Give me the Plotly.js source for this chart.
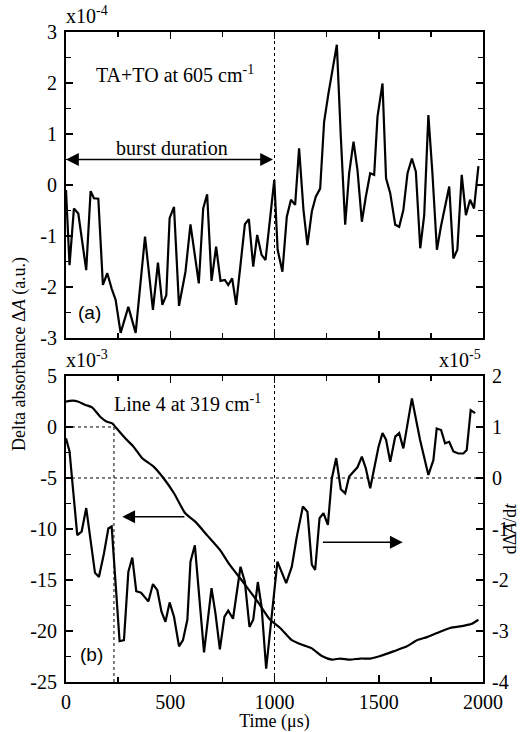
<!DOCTYPE html>
<html><head><meta charset="utf-8">
<script src="https://cdn.plot.ly/plotly-3.0.1.min.js"></script>
<style>html,body{margin:0;padding:0;background:#fff}#plot{width:520px;height:732px}</style>
</head><body><div id="plot"></div>
<script>
// Panel (a): TA+TO at 605 cm-1, delta absorbance (x1e-4)
const timeA = [0,17,38,59,97,118,134,155,177,198,219,238,262,299,334,379,417,441,462,481,497,518,542,573,597,637,658,677,698,720,741,762,778,797,816,858,877,898,917,938,957,999,1015,1038,1059,1079,1099,1118,1139,1158,1179,1198,1219,1238,1259,1278,1299,1318,1339,1358,1379,1398,1419,1438,1459,1478,1494,1518,1535,1555,1579,1598,1618,1638,1659,1678,1699,1718,1738,1757,1779,1798,1818,1838,1858,1877,1898,1918,1938,1957,1978];
const absA = [-0.1,-1.57,-0.46,-0.56,-1.67,-0.12,-0.26,-0.27,-1.96,-1.73,-2.03,-2.25,-2.9,-2.39,-2.9,-1.01,-2.45,-1.52,-2.35,-2.16,-0.65,-0.43,-2.37,-1.70,-0.77,-1.93,-0.46,-0.18,-1.88,-1.21,-1.88,-1.86,-1.96,-1.83,-2.35,-0.77,-0.67,-1.60,-0.98,-1.37,-1.47,0.10,-1.27,-1.70,-0.62,-0.29,-0.39,0.72,-0.49,-1.18,-0.52,-0.23,-0.07,1.24,1.80,2.29,2.75,0.95,-0.78,0.23,0.85,0.29,-0.72,-0.23,0.23,0.20,1.34,1.99,0.13,-0.16,-0.78,-0.82,-0.49,0.23,0.52,0.26,-1.24,-0.59,1.37,0.26,-1.27,-0.82,-0.39,-0.03,-1.44,-1.27,0.20,-0.59,-0.29,-0.46,0.37];

// Panel (b): Line 4 at 319 cm-1, delta absorbance (x1e-3), left axis
const timeB = [0,29,60,93,125,164,196,222,236,284,324,366,420,468,518,572,620,676,740,781,853,925,979,1027,1083,1139,1179,1227,1275,1315,1363,1411,1459,1507,1570,1635,1683,1731,1779,1842,1906,1946,1978];
const absB = [2.48,2.58,2.48,2.16,1.93,1.01,0.52,0.36,0.03,-1.11,-1.93,-3.07,-3.89,-5.03,-6.5,-8.46,-9.28,-10.6,-12.1,-13.4,-15.3,-17.3,-18.9,-19.7,-20.9,-21.4,-21.7,-22.45,-22.8,-22.7,-22.8,-22.7,-22.7,-22.45,-22.0,-21.5,-20.9,-20.6,-20.2,-19.7,-19.5,-19.3,-18.9];

// Panel (b): derivative dA/dt (x1e-5), right axis
const timeC = [0,17,54,75,97,139,158,182,203,219,257,278,299,318,337,360,395,417,438,458,477,497,518,542,561,582,597,618,641,662,698,717,738,760,778,801,837,858,880,898,920,938,960,979,1014,1056,1083,1107,1136,1158,1179,1195,1216,1235,1256,1275,1296,1318,1339,1358,1379,1398,1419,1438,1459,1478,1499,1518,1535,1555,1579,1598,1618,1659,1698,1738,1762,1778,1799,1818,1838,1858,1882,1906,1922,1941,1962];
const derivC = [0.78,0.52,-1.12,-1.05,-0.59,-1.86,-1.94,-1.48,-0.99,-0.95,-3.2,-3.18,-1.84,-1.56,-2.22,-2.25,-2.42,-2.08,-2.2,-2.62,-2.82,-2.44,-2.72,-3.3,-3.18,-2.78,-1.64,-1.32,-2.42,-3.42,-2.16,-2.66,-3.36,-2.72,-2.6,-2.76,-1.74,-2.04,-2.92,-2.78,-2.04,-2.52,-3.74,-2.98,-1.64,-2.06,-1.74,-1.15,-0.56,-0.66,-1.7,-1.8,-0.79,-0.69,-0.92,-0.01,0.39,-0.22,-0.3,0.03,0.12,0.21,0.42,0.19,-0.2,0.16,0.61,0.88,0.75,0.32,0.81,0.88,0.58,1.56,0.75,0.06,0.35,0.97,0.94,0.68,0.71,0.52,0.48,0.48,0.55,1.33,1.27];

// tick labels
const xTicks = [0,500,1000,1500,2000];
const xTickText = ["0","500","1000","1500","2000"];
const yTicksA = [-3,-2,-1,0,1,2,3];
const yTickTextA = ["-3","-2","-1","0","1","2","3"];
const yTicksB = [-25,-20,-15,-10,-5,0,5];
const yTickTextB = ["-25","-20","-15","-10","-5","0","5"];
const yTicksC = [-4,-3,-2,-1,0,1,2];
const yTickTextC = ["-4","-3","-2","-1","0","1","2"];

const serif = "Liberation Serif, Times New Roman, serif";
const sans = "Liberation Sans, Arial, sans-serif";
const tickFont = {family: serif, size: 20, color: "#000"};

const line = {color: "#000", width: 2.2};
const traces = [
  {x: timeA, y: absA, xaxis: "x", yaxis: "y", mode: "lines", line: line, hoverinfo: "skip"},
  {x: timeB, y: absB, xaxis: "x2", yaxis: "y2", mode: "lines", line: {color: "#000", width: 2.2, shape: "spline", smoothing: 0.6}, hoverinfo: "skip"},
  {x: timeC, y: derivC, xaxis: "x2", yaxis: "y3", mode: "lines", line: line, hoverinfo: "skip"}
];

function xAxis(anchor, labels) {
  return {anchor: anchor, domain: [0, 1], range: [0, 2000], tickmode: "array", tickvals: xTicks, ticktext: xTickText,
    showticklabels: labels, ticks: "inside", ticklen: 7, tickwidth: 1.5, tickcolor: "#000",
    minor: {tickmode: "linear", tick0: 0, dtick: 250, ticks: "inside", ticklen: 5, tickwidth: 1.5, tickcolor: "#000"},
    showline: true, linewidth: 2, linecolor: "#000", mirror: "ticks", showgrid: false, zeroline: false,
    tickfont: tickFont, ticklabelstandoff: 1};
}
function yAxis(dom, rng, tv, tt, dt, side, mirror) {
  const a = {domain: dom, range: rng, tickmode: "array", tickvals: tv, ticktext: tt,
    ticks: "inside", ticklen: 7, tickwidth: 1.5, tickcolor: "#000",
    minor: {tickmode: "linear", tick0: 0, dtick: dt, ticks: "inside", ticklen: 5, tickwidth: 1.5, tickcolor: "#000"},
    showline: true, linewidth: 2, linecolor: "#000", mirror: mirror, showgrid: false, zeroline: false,
    tickfont: tickFont, ticklabelstandoff: 3, side: side};
  return a;
}

const dot = {color: "#000", width: 1, dash: "dot"};
const layout = {
  width: 520, height: 732, paper_bgcolor: "#fff", plot_bgcolor: "#fff", showlegend: false,
  margin: {l: 66, r: 37, t: 32, b: 50},
  font: {family: serif, color: "#000"},
  xaxis: xAxis("y", false),
  yaxis: yAxis([0.5292, 1], [-3, 3], yTicksA, yTickTextA, 0.5, "left", "ticks"),
  xaxis2: Object.assign(xAxis("y2", true), {title: {text: "Time (\u03bcs)", font: {family: serif, size: 18}, standoff: 0}}),
  yaxis2: Object.assign(yAxis([0, 0.4708], [-25, 5], yTicksB, yTickTextB, 2.5, "left", false), {anchor: "x2"}),
  yaxis3: Object.assign(yAxis([0, 0.4708], [-4, 2], yTicksC, yTickTextC, 0.5, "right", false), {anchor: "x2", overlaying: "y2",
    title: {text: "d\u0394<i>A</i>/d<i>t</i>", font: {family: serif, size: 18}, standoff: 2}}),
  shapes: [
    {type: "line", xref: "x", yref: "y", x0: 1000, x1: 1000, y0: -3, y1: 3, line: dot},
    {type: "line", xref: "x2", yref: "y2", x0: 1000, x1: 1000, y0: -25, y1: 5, line: dot},
    {type: "line", xref: "x2", yref: "y2", x0: 230, x1: 230, y0: -25, y1: 0, line: dot},
    {type: "line", xref: "x2", yref: "y2", x0: 0, x1: 230, y0: 0, y1: 0, line: dot},
    {type: "line", xref: "x2", yref: "y2", x0: 0, x1: 2000, y0: -5, y1: -5, line: dot}
  ],
  annotations: [
    {xref: "paper", yref: "paper", x: -0.005, y: 1.0, yshift: 3, xanchor: "left", yanchor: "bottom", showarrow: false,
      text: "x10<sup>-4</sup>", font: {family: serif, size: 20}},
    {xref: "paper", yref: "paper", x: -0.005, y: 0.4708, yshift: 3, xanchor: "left", yanchor: "bottom", showarrow: false,
      text: "x10<sup>-3</sup>", font: {family: serif, size: 20}},
    {xref: "paper", yref: "paper", x: 1.0, y: 0.4708, yshift: 3, xanchor: "right", yanchor: "bottom", showarrow: false,
      text: "x10<sup>-5</sup>", font: {family: serif, size: 20}},
    {xref: "x", yref: "y", x: 135, y: 2.18, xanchor: "left", showarrow: false,
      text: "TA+TO at 605 cm<sup>-1</sup>", font: {family: serif, size: 20}},
    {xref: "x", yref: "y", x: 510, y: 0.72, xanchor: "center", showarrow: false,
      text: "burst duration", font: {family: serif, size: 20}},
    {xref: "x", yref: "y", axref: "x", ayref: "y", x: 0, y: 0.5, ax: 1000, ay: 0.5, showarrow: true,
      arrowhead: 2, arrowside: "end+start", arrowsize: 1.6, arrowwidth: 1.6, arrowcolor: "#000", text: ""},
    {xref: "x", yref: "y", x: 115, y: -2.5, showarrow: false, text: "(a)", font: {family: sans, size: 19}},
    {xref: "x2", yref: "y2", x: 222, y: 2.35, xanchor: "left", showarrow: false,
      text: "Line 4 at 319 cm<sup>-1</sup>", font: {family: serif, size: 20}},
    {xref: "x2", yref: "y2", axref: "x2", ayref: "y2", x: 270, y: -8.8, ax: 575, ay: -8.8, showarrow: true,
      arrowhead: 2, arrowsize: 1.6, arrowwidth: 1.6, arrowcolor: "#000", text: ""},
    {xref: "x2", yref: "y3", axref: "x2", ayref: "y3", x: 1615, y: -1.26, ax: 1225, ay: -1.26, showarrow: true,
      arrowhead: 2, arrowsize: 1.6, arrowwidth: 1.6, arrowcolor: "#000", text: ""},
    {xref: "x2", yref: "y2", x: 120, y: -22.3, showarrow: false, text: "(b)", font: {family: sans, size: 19}},
    {xref: "paper", yref: "paper", x: -0.11, y: 0.505, xanchor: "center", yanchor: "middle", textangle: -90, showarrow: false,
      text: "Delta absorbance \u0394<i>A</i> (a.u.)", font: {family: serif, size: 18}}
  ]
};

Plotly.newPlot("plot", traces, layout, {displayModeBar: false, staticPlot: true});
</script></body></html>
